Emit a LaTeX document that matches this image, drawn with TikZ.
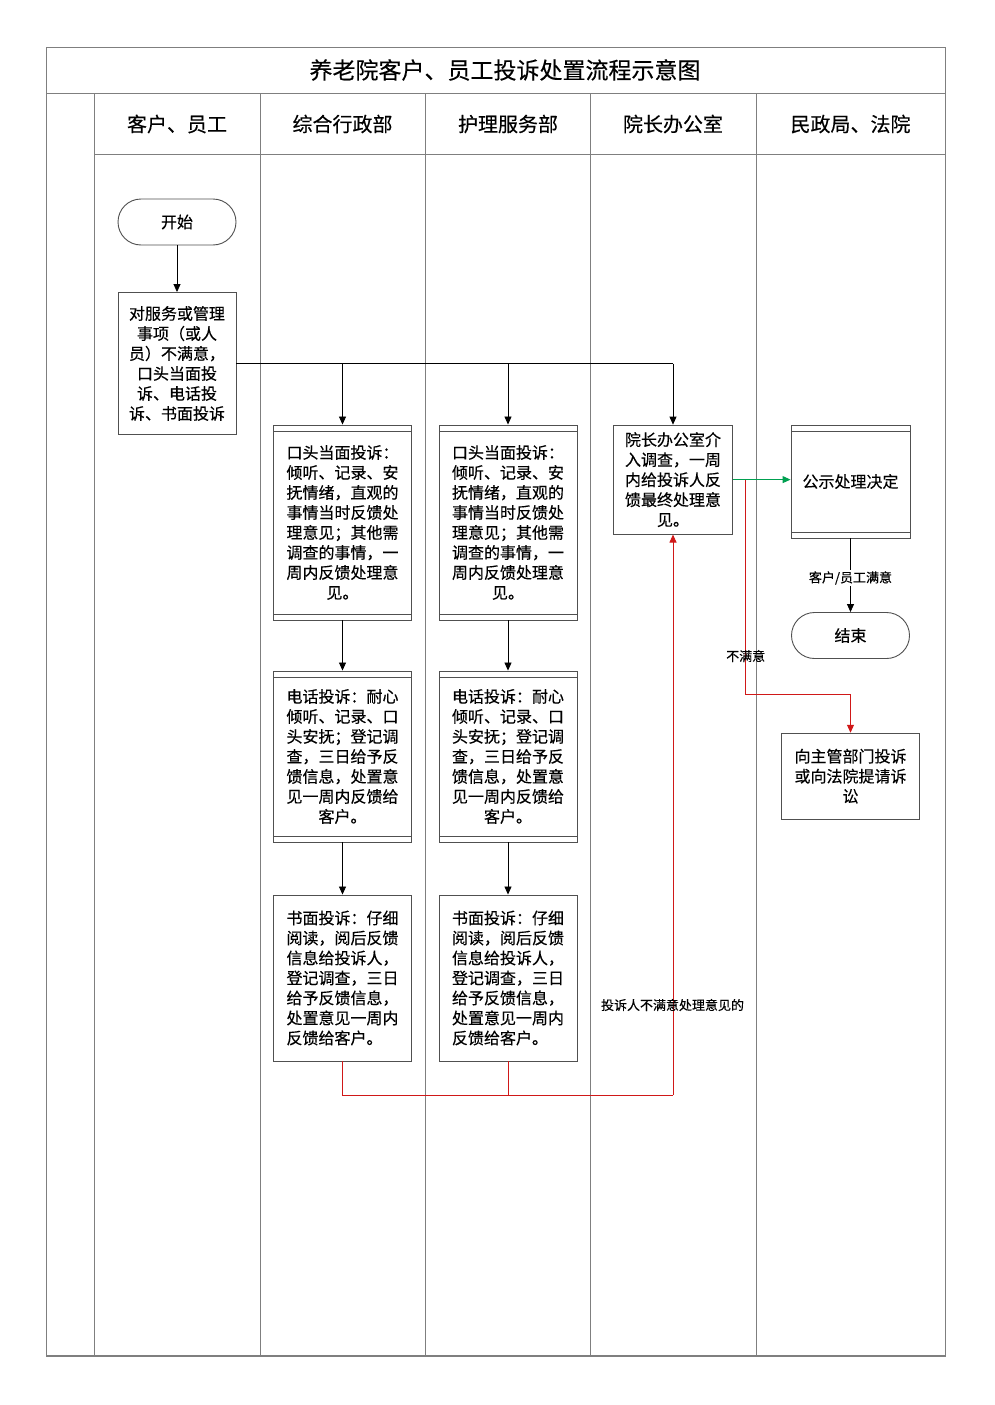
\documentclass[tikz,border=0pt]{standalone}
\usepackage{fontspec}
\setmainfont[FakeBold=0.3]{Noto Sans CJK SC}
\usetikzlibrary{arrows.meta}
\definecolor{lanegray}{HTML}{7F7F7F}
\definecolor{boxgray}{HTML}{505050}
\definecolor{redc}{HTML}{D01818}
\definecolor{greenc}{HTML}{00A050}
\begin{document}
\begin{tikzpicture}[x=1pt,y=-1pt,
  lane/.style={draw=lanegray, line width=0.9pt},
  frame/.style={draw=lanegray, line width=1.3pt},
  hdr/.style={font=\fontsize{20}{24}\selectfont, inner sep=0pt},
  box/.style={draw=boxgray, line width=0.9pt, inner sep=0pt, align=center, font=\fontsize{16}{20}\selectfont, fill=white},
  dbox/.style={box, path picture={
      \draw[boxgray, line width=0.9pt] ([yshift=-6pt]path picture bounding box.north west) -- ([yshift=-6pt]path picture bounding box.north east);
      \draw[boxgray, line width=0.9pt] ([yshift=6pt]path picture bounding box.south west) -- ([yshift=6pt]path picture bounding box.south east);}},
  term/.style={box, rounded corners=23pt, minimum width=118pt, minimum height=46pt},
  arr/.style={-{Triangle[length=8pt,width=7pt]}, line width=0.8pt, draw=black},
  redln/.style={draw=redc, line width=1pt},
  redarr/.style={redln, -{Triangle[length=8pt,width=7pt]}},
  greenarr/.style={draw=greenc, line width=1pt, -{Triangle[length=8pt,width=7pt]}},
  lbl/.style={font=\fontsize{13}{15}\selectfont, inner sep=1pt}
]
\useasboundingbox (0,0) rectangle (994,1405);
% frame and lanes
\draw[frame] (46.7,47.3) rectangle (945.7,1356);
\draw[frame] (46.7,93.5) -- (945.7,93.5);
\foreach \x in {94.5,260,425,590.7,756} {\draw[lane] (\x,93.5) -- (\x,1356);}
\draw[lane] (94.5,154) -- (945.7,154);
\node[font=\fontsize{23}{28}\selectfont, inner sep=0pt] (title) at (505,70) {养老院客户、员工投诉处置流程示意图};
\node[hdr] (h1) at (177,124) {客户、员工};
\node[hdr] (h2) at (342.5,124) {综合行政部};
\node[hdr] (h3) at (508,124) {护理服务部};
\node[hdr] (h4) at (673,124) {院长办公室};
\node[hdr] (h5) at (850.5,124) {民政局、法院};

% nodes
\node[term] (start) at (177,222) {开始};
\node[box, minimum width=118pt, minimum height=142pt] (b1) at (177,363.5)
  {对服务或管理\\事项（或人\\员）不满意，\\口头当面投\\诉、电话投\\诉、书面投诉};

\node[dbox, minimum width=138pt, minimum height=195pt] (A1) at (342.5,522.5)
  {口头当面投诉：\\倾听、记录、安\\抚情绪，直观的\\事情当时反馈处\\理意见；其他需\\调查的事情，一\\周内反馈处理意\\见。};
\node[dbox, minimum width=138pt, minimum height=195pt] (B1) at (508,522.5)
  {口头当面投诉：\\倾听、记录、安\\抚情绪，直观的\\事情当时反馈处\\理意见；其他需\\调查的事情，一\\周内反馈处理意\\见。};
\node[dbox, minimum width=138pt, minimum height=171pt] (A2) at (342.5,756.5)
  {电话投诉：耐心\\倾听、记录、口\\头安抚；登记调\\查，三日给予反\\馈信息，处置意\\见一周内反馈给\\客户。};
\node[dbox, minimum width=138pt, minimum height=171pt] (B2) at (508,756.5)
  {电话投诉：耐心\\倾听、记录、口\\头安抚；登记调\\查，三日给予反\\馈信息，处置意\\见一周内反馈给\\客户。};
\node[box, align=left, minimum width=138pt, minimum height=166pt] (A3) at (342.5,978)
  {书面投诉：仔细\\阅读，阅后反馈\\信息给投诉人，\\登记调查，三日\\给予反馈信息，\\处置意见一周内\\反馈给客户。};
\node[box, align=left, minimum width=138pt, minimum height=166pt] (B3) at (508,978)
  {书面投诉：仔细\\阅读，阅后反馈\\信息给投诉人，\\登记调查，三日\\给予反馈信息，\\处置意见一周内\\反馈给客户。};

\node[box, minimum width=119pt, minimum height=109pt] (C) at (673,479.6)
  {院长办公室介\\入调查，一周\\内给投诉人反\\馈最终处理意\\见。};
\node[dbox, minimum width=119pt, minimum height=113pt] (D) at (850.5,481.5) {公示处理决定};
\node[term] (end) at (850.5,635.5) {结束};
\node[box, minimum width=138pt, minimum height=86pt] (E) at (850.5,776.2)
  {向主管部门投诉\\或向法院提请诉\\讼};

% connectors
\draw[arr] (start) -- (b1);
\coordinate (j3) at (C.north |- b1.east);
\draw[line width=0.8pt] (b1.east) -- (j3);
\draw[arr] (A1.north |- b1.east) -- (A1.north);
\draw[arr] (B1.north |- b1.east) -- (B1.north);
\draw[arr] (j3) -- (C.north);
\draw[arr] (A1) -- (A2);
\draw[arr] (A2) -- (A3);
\draw[arr] (B1) -- (B2);
\draw[arr] (B2) -- (B3);

\coordinate (rbot) at (673,1095);
\draw[redln] (A3.south) |- (rbot);
\draw[redln] (B3.south) -- (B3.south |- rbot);
\draw[redarr] (rbot) -- (C.south);
\node[lbl] (l1) at (672.5,1005) {投诉人不满意处理意见的};

\draw[greenarr] (C.east) -- (C.east -| D.west);
\coordinate (rs) at ([xshift=13pt]C.east);
\coordinate (rturn) at ([yshift=38pt]E.north);
\draw[redarr] (rs) |- (rturn) -- (E.north);
\node[lbl] (l2) at (745.7,656) {不满意};

\draw[arr] (D) -- (end);
\node[lbl, fill=white] (l3) at (850.5,578) {客户/员工满意};
\end{tikzpicture}
\end{document}
